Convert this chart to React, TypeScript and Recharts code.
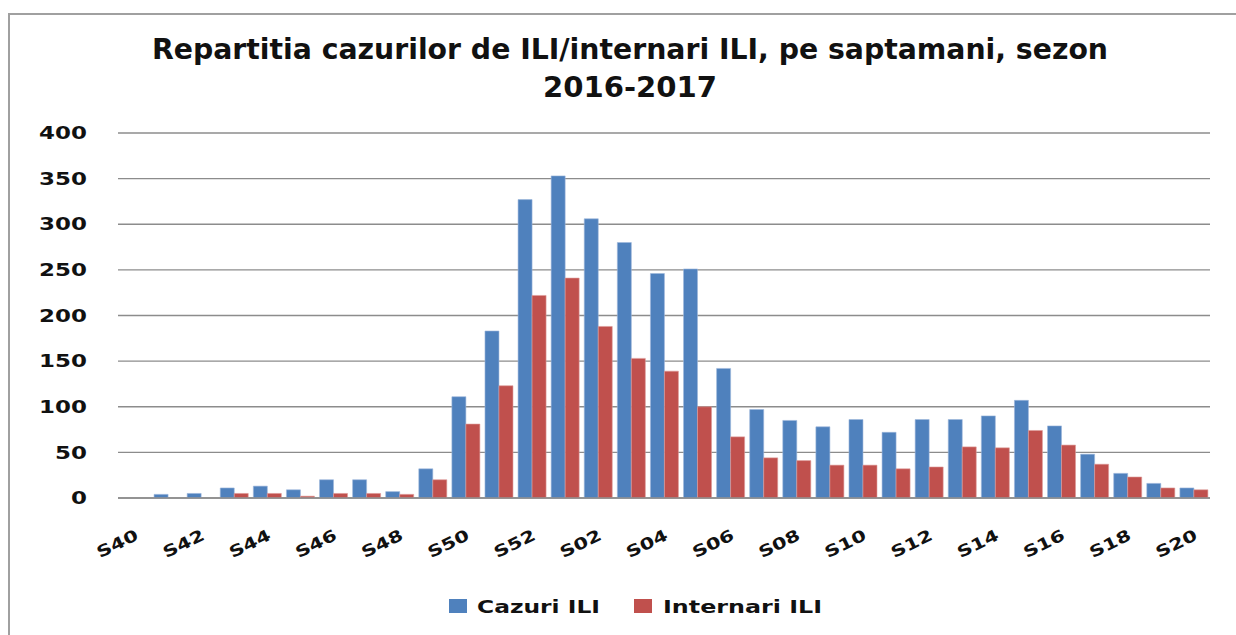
import React from "react"
import { Bar, BarChart, CartesianGrid, XAxis, YAxis } from "recharts"

const WEEKS = [
  "S40", "S41", "S42", "S43", "S44", "S45", "S46", "S47", "S48", "S49", "S50", "S51", "S52",
  "S01", "S02", "S03", "S04", "S05", "S06", "S07", "S08", "S09", "S10",
  "S11", "S12", "S13", "S14", "S15", "S16", "S17", "S18", "S19", "S20",
]

const CAZURI = [
  0, 4, 5, 11, 13, 9, 20, 20, 7, 32, 111, 183, 327,
  353, 306, 280, 246, 251, 142, 97, 85, 78, 86, 72, 86, 86, 90, 107, 79, 48, 27, 16, 11,
]

const INTERNARI = [
  0, 0, 0, 5, 5, 2, 5, 5, 4, 20, 81, 123, 222,
  241, 188, 153, 139, 100, 67, 44, 41, 36, 36, 32, 34, 56, 55, 74, 58, 37, 23, 11, 9,
]

const Y_TICKS = [0, 50, 100, 150, 200, 250, 300, 350, 400]

const BLUE = "#4F81BD"
const RED = "#C0504D"
const FONT = "'DejaVu Sans', Verdana, sans-serif"
const TITLE_FONT = "'DejaVu Sans Condensed', 'DejaVu Sans', sans-serif"

const data = WEEKS.map((w, i) => ({ week: w, cazuri: CAZURI[i], internari: INTERNARI[i] }))

function YTick({ x, y, payload }: any) {
  return (
    <g transform={`translate(${x - 23},${y})`}>
      <text
        textAnchor="end"
        dy="0.36em"
        transform="scale(1.35,1)"
        fontFamily={FONT}
        fontWeight="bold"
        fontSize={17}
        fill="#111"
      >
        {payload.value}
      </text>
    </g>
  )
}

function XTick({ x, y, payload }: any) {
  return (
    <g transform={`translate(${x + 5},${y + 33})`}>
      <text
        textAnchor="end"
        transform="rotate(-26) scale(1.3,1)"
        fontFamily={FONT}
        fontWeight="bold"
        fontSize={16}
        fill="#111"
      >
        {payload.value}
      </text>
    </g>
  )
}

export default function App() {
  return (
    <div
      style={{
        position: "absolute",
        left: 0,
        top: 0,
        width: 1236,
        height: 635,
        overflow: "hidden",
        background: "#fff",
      }}
    >
      <div
        style={{
          position: "absolute",
          left: 8,
          top: 13,
          width: 1260,
          height: 660,
          border: "2px solid #a0a0a0",
          boxSizing: "border-box",
        }}
      />
      <svg width={1236} height={635} style={{ position: "absolute", left: 0, top: 0 }}>
        <text
          x={630}
          y={59}
          textAnchor="middle"
          fontFamily={TITLE_FONT}
          fontWeight="bold"
          fontSize={28}
          textLength={956}
          lengthAdjust="spacingAndGlyphs"
          fill="#111"
        >
          Repartitia cazurilor de ILI/internari ILI, pe saptamani, sezon
        </text>
        <text
          x={630}
          y={97}
          textAnchor="middle"
          fontFamily={TITLE_FONT}
          fontWeight="bold"
          fontSize={28}
          textLength={174}
          lengthAdjust="spacingAndGlyphs"
          fill="#111"
        >
          2016-2017
        </text>
        <rect x={449} y={599} width={18} height={14} fill={BLUE} />
        <text x={477} y={613} fontFamily={FONT} fontWeight="bold" fontSize={18} textLength={123} lengthAdjust="spacingAndGlyphs" fill="#111">
          Cazuri ILI
        </text>
        <rect x={634} y={599} width={18} height={14} fill={RED} />
        <text x={663} y={613} fontFamily={FONT} fontWeight="bold" fontSize={18} textLength={159} lengthAdjust="spacingAndGlyphs" fill="#111">
          Internari ILI
        </text>
      </svg>
      <div style={{ position: "absolute", left: 0, top: 0 }}>
        <BarChart
          width={1236}
          height={635}
          data={data}
          margin={{ top: 133, right: 26, bottom: 97, left: 0 }}
          barCategoryGap="9%"
          barGap={0}
        >
          <CartesianGrid vertical={false} stroke="#8c8c8c" strokeWidth={1.3} />
          <XAxis
            dataKey="week"
            interval={1}
            height={40}
            tickLine={false}
            axisLine={{ stroke: "#8c8c8c", strokeWidth: 1.3 }}
            tick={<XTick />}
          />
          <YAxis
            width={118}
            domain={[0, 400]}
            ticks={Y_TICKS}
            axisLine={false}
            tickLine={false}
            tick={<YTick />}
          />
          <Bar dataKey="cazuri" fill={BLUE} stroke="#9db7db" strokeWidth={0.6} isAnimationActive={false} />
          <Bar dataKey="internari" fill={RED} stroke="#dd9a98" strokeWidth={0.6} isAnimationActive={false} />
        </BarChart>
      </div>
    </div>
  )
}
